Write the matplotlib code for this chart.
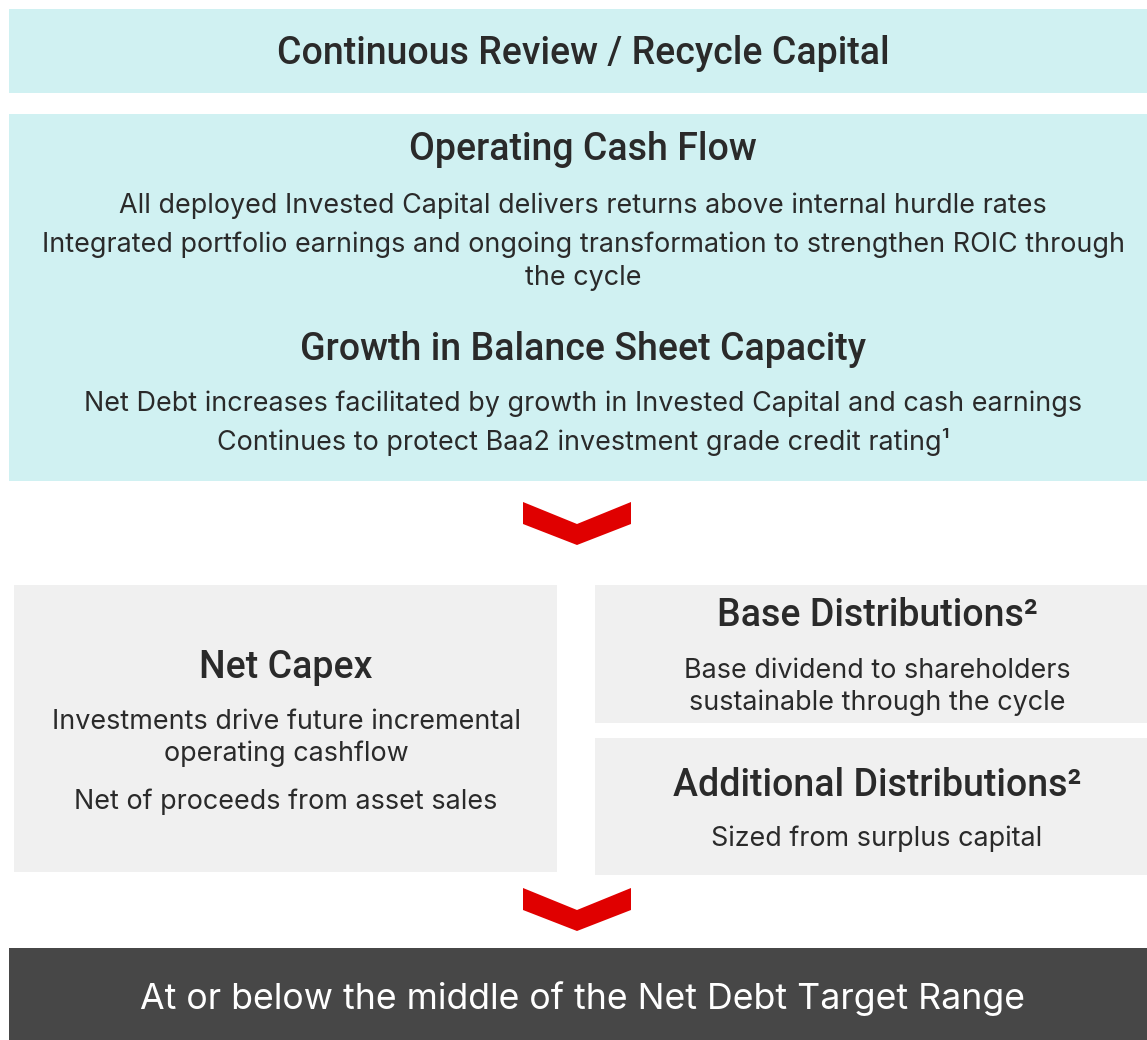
import matplotlib.pyplot as plt
from matplotlib.patches import Rectangle, Polygon

plt.rcParams['font.family'] = ['Inter', 'DejaVu Sans']

# colours
TEAL = '#d0f1f2'
GREY = '#f0f0f0'
DARK = '#474747'
RED = '#e00000'
INK = '#2a2a2a'

# text content
top_title = 'Continuous Review / Recycle Capital'
ocf_title = 'Operating Cash Flow'
ocf_lines = ['All deployed Invested Capital delivers returns above internal hurdle rates',
             'Integrated portfolio earnings and ongoing transformation to strengthen ROIC through',
             'the cycle']
bsc_title = 'Growth in Balance Sheet Capacity'
bsc_lines = ['Net Debt increases facilitated by growth in Invested Capital and cash earnings',
             'Continues to protect Baa2 investment grade credit rating\u00b9']
capex_title = 'Net Capex'
capex_lines = ['Investments drive future incremental', 'operating cashflow',
               'Net of proceeds from asset sales']
base_title = 'Base Distributions\u00b2'
base_lines = ['Base dividend to shareholders', 'sustainable through the cycle']
add_title = 'Additional Distributions\u00b2'
add_lines = ['Sized from surplus capital']
bottom_text = 'At or below the middle of the Net Debt Target Range'

fig = plt.figure(figsize=(11.47, 10.40), dpi=100)
ax = fig.add_axes([0, 0, 1, 1])
ax.set_xlim(0, 1147)
ax.set_ylim(1040, 0)
ax.axis('off')


def box(x0, y0, x1, y1, color):
    ax.add_patch(Rectangle((x0, y0), x1 - x0, y1 - y0, facecolor=color, edgecolor='none'))


def chevron(ytop, xl=523, xr=631, xc=577, arm=22, depth=43):
    pts = [(xl, ytop), (xc, ytop + arm), (xr, ytop), (xr, ytop + arm),
           (xc, ytop + depth), (xl, ytop + arm)]
    ax.add_patch(Polygon(pts, closed=True, facecolor=RED, edgecolor='none'))


def head(x, y, s):
    ax.text(x, y + 2, s, ha='center', va='center', fontsize=27, color=INK,
            fontweight=500, family=['Roboto', 'DejaVu Sans'])


def body(x, y, s, size=19.4):
    ax.text(x, y + 2, s, ha='center', va='center', fontsize=size, color=INK)


# boxes
box(9, 9, 1147, 93, TEAL)
box(9, 114, 1147, 481, TEAL)
box(14, 585, 557, 872, GREY)
box(595, 585, 1147, 723, GREY)
box(595, 738, 1147, 875, GREY)
box(9, 948, 1147, 1040, DARK)

chevron(502)
chevron(888)

# top
head(583, 51, top_title)

# operating cash flow block
head(583, 148, ocf_title)
for y, s in zip([204, 243, 276], ocf_lines):
    body(583, y, s)

head(583, 347, bsc_title)
for y, s in zip([402, 440], bsc_lines):
    body(583, y, s)

# net capex
head(286, 665, capex_title)
for y, s in zip([720, 752, 800], capex_lines):
    body(286, y, s)

# distributions
head(877, 614, base_title)
for y, s in zip([669, 701], base_lines):
    body(877, y, s)

head(877, 783, add_title)
for y, s in zip([837], add_lines):
    body(877, y, s)

# bottom banner
ax.text(583, 999, bottom_text, ha='center', va='center', fontsize=25.7, color='white')

fig.savefig('out.png', dpi=100)
